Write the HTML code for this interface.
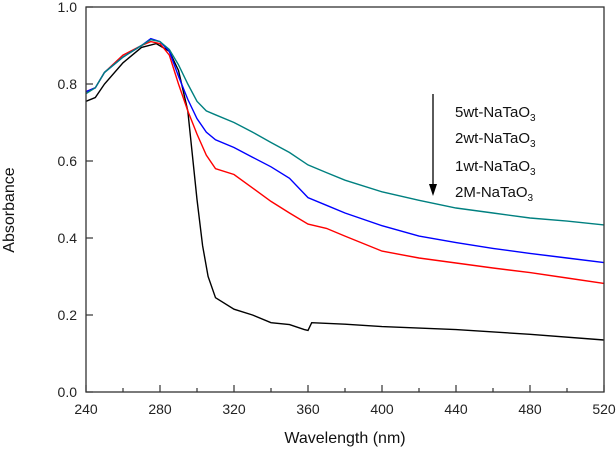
<!DOCTYPE html>
<html><head><meta charset="utf-8"><style>
html,body{margin:0;padding:0;background:#fff;}
svg{display:block;font-family:"Liberation Sans",Arial,sans-serif;}
</style></head><body>
<svg id="chart" width="616" height="449" viewBox="0 0 616 449"></svg>
<script>
const wl5 = [240,245,250,260,270,275,280,285,290,295,300,305,310,320,330,340,350,360,370,380,400,420,440,460,480,500,520];
const s5 = [0.775,0.79,0.83,0.87,0.9,0.915,0.91,0.89,0.85,0.8,0.755,0.73,0.72,0.7,0.675,0.648,0.622,0.59,0.57,0.55,0.52,0.498,0.478,0.465,0.452,0.444,0.434];
const wl2 = [240,245,250,260,270,275,280,285,290,295,300,305,310,320,330,340,350,360,370,380,400,420,440,460,480,500,520];
const s2 = [0.78,0.79,0.83,0.87,0.9,0.918,0.91,0.885,0.82,0.76,0.71,0.675,0.655,0.635,0.61,0.585,0.555,0.505,0.485,0.465,0.432,0.405,0.388,0.373,0.36,0.348,0.336];
const wl1 = [240,245,250,260,270,275,280,285,290,295,300,305,310,320,330,340,350,360,370,380,400,420,440,460,480,500,520];
const s1 = [0.78,0.79,0.83,0.875,0.9,0.91,0.905,0.875,0.8,0.73,0.67,0.615,0.58,0.565,0.53,0.495,0.465,0.436,0.425,0.405,0.366,0.348,0.335,0.322,0.31,0.296,0.282];
const wlM = [240,245,250,260,270,278,285,290,295,300,303,306,310,320,330,340,350,358,360,362,380,400,440,480,520];
const sM = [0.755,0.765,0.8,0.855,0.895,0.905,0.885,0.835,0.73,0.5,0.38,0.3,0.245,0.215,0.2,0.18,0.175,0.162,0.16,0.18,0.176,0.17,0.162,0.15,0.135];
const xTicks = [240,280,320,360,400,440,480,520];
const yTicks = [0.0,0.2,0.4,0.6,0.8,1.0];
const legendLabels = ["5wt-NaTaO","2wt-NaTaO","1wt-NaTaO","2M-NaTaO"];

const L=86,R=604,T=7,B=392;
const xs=v=>L+(v-240)/(520-240)*(R-L);
const ys=v=>B-v/1.0*(B-T);
const svg=document.getElementById('chart');
const NS='http://www.w3.org/2000/svg';
function mk(tag,attrs,parent){const e=document.createElementNS(NS,tag);for(const k in attrs)e.setAttribute(k,attrs[k]);(parent||svg).appendChild(e);return e;}

const series=[[wlM,sM,'#000000','series-2m'],[wl1,s1,'#ff0000','series-1wt'],[wl2,s2,'#0000ff','series-2wt'],[wl5,s5,'#008080','series-5wt']];
series.forEach(([w,s,c,n])=>{
  const p=mk('polyline',{points:w.map((v,i)=>xs(v).toFixed(1)+','+ys(s[i]).toFixed(1)).join(' '),fill:'none',stroke:c,'stroke-width':1.4});
  
  
});

const frame=mk('rect',{x:L,y:T,width:R-L,height:B-T,fill:'none',stroke:'#333','stroke-width':1.3});



xTicks.forEach(v=>{
  mk('line',{x1:xs(v),x2:xs(v),y1:B,y2:B-7,stroke:'#333','stroke-width':1.2});
  const t=mk('text',{x:xs(v),y:B+22,'text-anchor':'middle','font-size':14,fill:'#222'});
  t.textContent=v;
  
  
});
for(let i=0;i<xTicks.length-1;i++){const m=(xTicks[i]+xTicks[i+1])/2;mk('line',{x1:xs(m),x2:xs(m),y1:B,y2:B-4,stroke:'#333','stroke-width':1.2});}
yTicks.forEach(v=>{
  mk('line',{x1:L,x2:L+7,y1:ys(v),y2:ys(v),stroke:'#333','stroke-width':1.2});
  const t=mk('text',{x:L-9,y:ys(v)+5,'text-anchor':'end','font-size':14,fill:'#222'});
  t.textContent=v.toFixed(1);
  
  
});

const xt=mk('text',{x:345,y:443,'text-anchor':'middle','font-size':16,fill:'#111'});
xt.textContent='Wavelength (nm)';


const yt=mk('text',{x:14,y:210,'text-anchor':'middle','font-size':16,fill:'#111',transform:'rotate(-90 14 210)'});
yt.textContent='Absorbance';



mk('line',{x1:433,x2:433,y1:94,y2:186,stroke:'#000','stroke-width':1.3});
const ah=mk('polygon',{points:'429,184 437,184 433,196',fill:'#000'});


const ly=[117,143,171,197];
legendLabels.forEach((s,i)=>{
  const t=mk('text',{x:455,y:ly[i],'font-size':15,fill:'#111'});
  t.textContent=s;
  const sub=mk('tspan',{'font-size':10,dy:4},t);sub.textContent='3';
  
  
});
</script>
</body></html>
